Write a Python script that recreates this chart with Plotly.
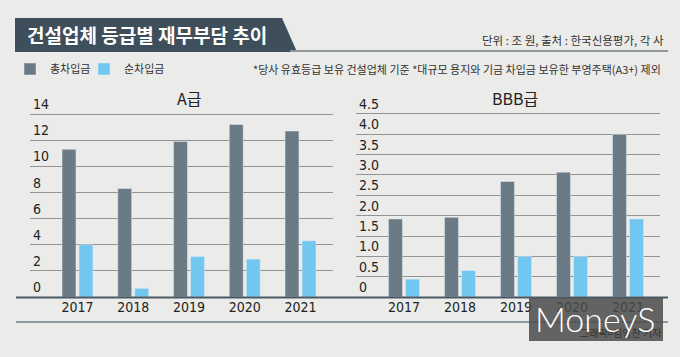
import plotly.graph_objects as go

years = ["2017", "2018", "2019", "2020", "2021"]
a_total = [11.3, 8.3, 11.9, 13.2, 12.7]
a_net = [4.0, 0.66, 3.1, 2.9, 4.3]
bbb_total = [1.92, 1.96, 2.84, 3.07, 4.0]
bbb_net = [0.44, 0.65, 1.0, 1.0, 1.92]
a_ticks = [0, 2, 4, 6, 8, 10, 12, 14]
a_ticktext = ["0", "2", "4", "6", "8", "10", "12", "14"]
bbb_ticks = [0, 0.5, 1.0, 1.5, 2.0, 2.5, 3.0, 3.5, 4.0, 4.5]
bbb_ticktext = ["0", "0.5", "1.0", "1.5", "2.0", "2.5", "3.0", "3.5", "4.0", "4.5"]
series_names = ["총차입금", "순차입금"]

title_text = "건설업체 등급별 재무부담 추이"
unit_text = "단위 : 조 원, 출처 : 한국신용평가, 각 사"
note_text = "*당사 유효등급 보유 건설업체 기준 *대규모 용지와 기금 차입금 보유한 부영주택(A3+) 제외"
credit_text = "그래픽=김영찬 기자"

W, H = 680, 357
BG = "#ebebe9"
DARK = "#6a7b86"
LIGHT = "#71c7ef"
BANNER = "#3e4f5b"
KFONT = "Noto Sans CJK KR"
NFONT = "Liberation Sans Narrow, DejaVu Sans Condensed, Liberation Sans"


def X(px):
    return px / W


def Y(py):
    return 1 - py / H


fig = go.Figure()
fig.add_trace(go.Bar(x=years, y=a_total, name=series_names[0], marker_color=DARK,
                     xaxis="x", yaxis="y", legendgroup="t", legend="legend"))
fig.add_trace(go.Bar(x=years, y=a_net, name=series_names[1], marker_color=LIGHT,
                     xaxis="x", yaxis="y", legendgroup="n", legend="legend2"))
fig.add_trace(go.Bar(x=years, y=bbb_total, name=series_names[0], marker_color=DARK,
                     xaxis="x2", yaxis="y2", legendgroup="t", showlegend=False))
fig.add_trace(go.Bar(x=years, y=bbb_net, name=series_names[1], marker_color=LIGHT,
                     xaxis="x2", yaxis="y2", legendgroup="n", showlegend=False))

TOP = 96
ydom = [Y(297), Y(TOP)]
common_x = dict(type="category", showgrid=False, showline=False, zeroline=False, ticks="",
                tickfont=dict(family=NFONT, size=14, color="#222"), fixedrange=True)
common_y = dict(domain=ydom, showline=False, zeroline=False, ticks="",
                ticklabelposition="inside top", gridcolor="#939393", gridwidth=1,
                tickfont=dict(family=NFONT, size=14, color="#222"), fixedrange=True)

legend_common = dict(orientation="h", xanchor="left", yanchor="middle",
                     font=dict(family=KFONT, size=11, color="#333"), bgcolor="rgba(0,0,0,0)",
                     itemclick=False, itemdoubleclick=False)

fig.update_layout(
    width=W, height=H, autosize=False,
    margin=dict(l=0, r=0, t=0, b=0),
    paper_bgcolor=BG, plot_bgcolor=BG,
    barmode="group", bargap=0.39, bargroupgap=0.18,
    xaxis=dict(domain=[X(30), X(333)], range=[-0.852, 4.583], anchor="y", **common_x),
    yaxis=dict(anchor="x", range=[0, (297 - TOP) / 13.07], tickvals=a_ticks, ticktext=a_ticktext, **common_y),
    xaxis2=dict(domain=[X(356), X(660)], range=[-0.857, 4.571], anchor="y2", **common_x),
    yaxis2=dict(anchor="x2", range=[0, (297 - TOP) / 40.67], tickvals=bbb_ticks, ticktext=bbb_ticktext, **common_y),
    showlegend=True,
    legend=dict(x=X(10), y=Y(69), **legend_common),
    legend2=dict(x=X(84), y=Y(69), **legend_common),
)

shapes = [
    dict(type="path", xref="paper", yref="paper",
         path=f"M {X(15)},{Y(18)} L {X(282)},{Y(18)} L {X(297)},{Y(52)} L {X(15)},{Y(52)} Z",
         fillcolor=BANNER, line=dict(width=0)),
    dict(type="line", xref="paper", yref="paper", x0=X(290), x1=X(668), y0=Y(51), y1=Y(51),
         line=dict(color="#8f989e", width=2)),
    dict(type="line", xref="paper", yref="paper", x0=X(16), x1=X(668), y0=Y(297.5), y1=Y(297.5),
         line=dict(color="#4b5b66", width=2)),
    dict(type="line", xref="paper", yref="paper", x0=X(16), x1=X(668), y0=Y(322), y1=Y(322),
         line=dict(color="#6f7c85", width=1.5)),
    dict(type="rect", xref="paper", yref="paper", x0=X(529), x1=X(663), y0=Y(298), y1=Y(341),
         fillcolor="rgba(75,75,75,0.85)", line=dict(width=0), layer="above"),
]

annotations = [
    dict(text=f"<b>{title_text}</b>", x=X(25), y=Y(35), xref="paper", yref="paper",
         xanchor="left", yanchor="middle", showarrow=False,
         font=dict(family=KFONT, size=19, color="white")),
    dict(text=unit_text, x=X(666), y=Y(40), xref="paper", yref="paper",
         xanchor="right", yanchor="middle", showarrow=False,
         font=dict(family=KFONT, size=11.5, color="#333")),
    dict(text=note_text, x=X(663), y=Y(69), xref="paper", yref="paper",
         xanchor="right", yanchor="middle", showarrow=False,
         font=dict(family=KFONT, size=11, color="#333")),
    dict(text="A급", x=X(189), y=Y(98), xref="paper", yref="paper",
         xanchor="center", yanchor="middle", showarrow=False,
         font=dict(family=KFONT, size=16, color="#222")),
    dict(text="BBB급", x=X(515), y=Y(98), xref="paper", yref="paper",
         xanchor="center", yanchor="middle", showarrow=False,
         font=dict(family=KFONT, size=16, color="#222")),
    dict(text=credit_text, x=X(663), y=Y(332), xref="paper", yref="paper",
         xanchor="right", yanchor="middle", showarrow=False,
         font=dict(family=KFONT, size=10, color="#333")),
    dict(text="MoneyS", x=X(595), y=Y(318), xref="paper", yref="paper",
         xanchor="center", yanchor="middle", showarrow=False,
         font=dict(family="Lato, Liberation Sans", size=34, color="white", weight=300)),
]

fig.update_layout(shapes=shapes, annotations=annotations)
fig.write_html("out.html", config={"displayModeBar": False},
               post_script="document.body.style.margin='0';")
